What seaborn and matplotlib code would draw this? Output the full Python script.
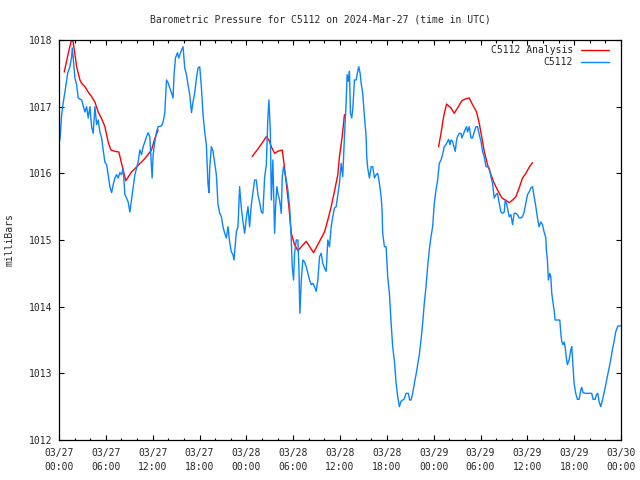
import pandas as pd
import seaborn as sns
import matplotlib.pyplot as plt
from matplotlib.ticker import MultipleLocator

# Hours since 2024-03-27 00:00 UTC and pressure (mbar)
obs_hours = [0.12, 0.34, 0.55, 0.76, 1.11, 1.40, 1.62, 1.70, 1.82, 2.04, 2.26, 2.46, 2.90, 3.32, 3.54,
             3.74, 3.96, 4.18, 4.38, 4.60, 4.82, 5.02, 5.24, 5.46, 5.66, 5.88, 6.10, 6.30, 6.52, 6.74,
             6.94, 7.16, 7.38, 7.58, 7.80, 8.01, 8.22, 8.44, 8.65, 8.86, 9.08, 9.29, 9.50, 9.72, 10.14,
             10.36, 10.57, 10.78, 10.99, 11.21, 11.42, 11.63, 11.85, 11.93, 12.06, 12.27, 12.49, 12.70,
             13.13, 13.33, 13.55, 13.77, 13.97, 14.19, 14.41, 14.61, 14.74, 14.92, 15.18, 15.34, 15.60,
             15.89, 16.11, 16.33, 16.53, 16.75, 16.97, 17.17, 17.39, 17.61, 17.81, 18.03, 18.25, 18.45,
             18.67, 18.88, 19.09, 19.22, 19.31, 19.52, 19.73, 19.95, 20.16, 20.37, 20.59, 20.80, 21.01,
             21.23, 21.44, 21.65, 21.86, 22.08, 22.29, 22.42, 22.72, 22.93, 23.14, 23.36, 23.57, 23.78,
             24.00, 24.21, 24.42, 24.64, 24.85, 25.06, 25.28, 25.48, 25.70, 25.92, 26.12, 26.34, 26.56,
             26.76, 26.89, 27.07, 27.20, 27.40, 27.62, 27.75, 27.91, 28.04, 28.26, 28.48, 28.60, 28.77,
             29.12, 29.32, 29.54, 29.76, 29.88, 30.05, 30.18, 30.40, 30.60, 30.73, 30.86, 31.04, 31.24,
             31.46, 31.67, 31.88, 32.10, 32.31, 32.52, 32.74, 32.95, 33.16, 33.38, 33.59, 33.80, 34.01,
             34.23, 34.44, 34.65, 34.87, 35.08, 35.29, 35.51, 35.72, 35.93, 36.15, 36.35, 36.57, 36.78,
             36.91, 37.08, 37.21, 37.34, 37.50, 37.63, 37.85, 38.06, 38.27, 38.40, 38.58, 38.71, 38.91,
             39.13, 39.35, 39.42, 39.55, 39.77, 39.99, 40.19, 40.41, 40.63, 40.83, 41.05, 41.27, 41.39,
             41.47, 41.69, 41.91, 42.11, 42.33, 42.55, 42.75, 42.97, 43.19, 43.39, 43.61, 43.82, 44.03,
             44.25, 44.46, 44.76, 44.92, 45.10, 45.31, 45.53, 45.74, 45.95, 46.16, 46.38, 46.59, 46.80,
             47.02, 47.23, 47.44, 47.66, 47.87, 48.08, 48.30, 48.51, 48.72, 48.94, 49.14, 49.36, 49.58,
             49.78, 49.91, 50.09, 50.22, 50.42, 50.64, 50.77, 50.93, 51.06, 51.28, 51.50, 51.62, 51.79,
             52.01, 52.21, 52.34, 52.56, 52.78, 52.98, 53.20, 53.42, 53.62, 53.84, 54.06, 54.26, 54.48,
             54.70, 54.90, 55.12, 55.34, 55.54, 55.76, 55.98, 56.18, 56.40, 56.62, 56.82, 57.04, 57.17,
             57.33, 57.46, 57.68, 57.89, 58.11, 58.31, 58.53, 58.74, 58.95, 59.17, 59.38, 59.59, 59.81,
             60.02, 60.23, 60.45, 60.66, 60.88, 61.09, 61.30, 61.51, 61.73, 61.94, 62.15, 62.37, 62.44,
             62.57, 62.70, 62.88, 63.01, 63.13, 63.30, 63.43, 63.56, 63.85, 64.16, 64.29, 64.42, 64.58,
             64.71, 64.84, 65.00, 65.13, 65.35, 65.56, 65.69, 65.77, 65.90, 65.99, 66.20, 66.41, 66.63,
             66.85, 66.97, 67.14, 67.48, 67.91, 68.25, 68.42, 68.68, 68.85, 69.03, 69.19, 69.40, 69.62,
             69.82, 70.04, 70.25, 70.46, 70.68, 70.89, 71.10, 71.32, 71.60, 71.95]
obs_mbar = [1016.50, 1016.88, 1017.07, 1017.22, 1017.50, 1017.60, 1017.75, 1017.88, 1017.73, 1017.43,
            1017.33, 1017.13, 1017.10, 1016.92, 1017.00, 1016.83, 1017.00, 1016.70, 1016.60, 1017.00,
            1016.73, 1016.80, 1016.62, 1016.53, 1016.35, 1016.17, 1016.13, 1015.98, 1015.80, 1015.71,
            1015.83, 1015.93, 1015.98, 1015.93, 1016.01, 1015.98, 1016.08, 1015.68, 1015.63, 1015.57,
            1015.42, 1015.60, 1015.78, 1015.98, 1016.17, 1016.35, 1016.28, 1016.40, 1016.47, 1016.55,
            1016.61, 1016.55, 1016.08, 1015.93, 1016.28, 1016.47, 1016.62, 1016.70, 1016.71, 1016.77,
            1016.90, 1017.40, 1017.36, 1017.28, 1017.21, 1017.13, 1017.48, 1017.73, 1017.81, 1017.73,
            1017.82, 1017.90, 1017.58, 1017.48, 1017.33, 1017.18, 1016.91, 1017.07, 1017.21, 1017.43,
            1017.58, 1017.60, 1017.28, 1016.88, 1016.62, 1016.43, 1015.83, 1015.71, 1016.08, 1016.40,
            1016.33, 1016.15, 1015.98, 1015.53, 1015.40, 1015.35, 1015.20, 1015.10, 1015.03, 1015.20,
            1014.97, 1014.82, 1014.78, 1014.70, 1015.12, 1015.20, 1015.80, 1015.48, 1015.27, 1015.10,
            1015.33, 1015.50, 1015.20, 1015.53, 1015.72, 1015.90, 1015.90, 1015.68, 1015.57, 1015.42,
            1015.40, 1015.93, 1016.13, 1016.83, 1017.10, 1016.65, 1015.60, 1016.20, 1015.10, 1015.50,
            1015.80, 1015.70, 1015.60, 1015.40, 1015.95, 1016.10, 1015.90, 1015.75, 1015.50, 1015.00,
            1014.60, 1014.40, 1014.80, 1015.00, 1015.00, 1014.60, 1013.90, 1014.40, 1014.70, 1014.67,
            1014.60, 1014.50, 1014.40, 1014.33, 1014.35, 1014.30, 1014.23, 1014.40, 1014.75, 1014.80,
            1014.65, 1014.58, 1014.53, 1015.00, 1014.90, 1015.20, 1015.35, 1015.48, 1015.50, 1015.68,
            1015.85, 1016.15, 1015.95, 1016.55, 1017.05, 1017.48, 1017.38, 1017.53, 1016.90, 1016.83,
            1016.95, 1017.40, 1017.40, 1017.53, 1017.60, 1017.50, 1017.35, 1017.20, 1016.85, 1016.55,
            1016.25, 1016.08, 1015.93, 1016.10, 1016.10, 1015.93, 1015.98, 1016.00, 1015.85, 1015.65,
            1015.45, 1015.10, 1014.90, 1014.90, 1014.45, 1014.20, 1013.75, 1013.40, 1013.18, 1012.85,
            1012.65, 1012.50, 1012.58, 1012.60, 1012.62, 1012.70, 1012.70, 1012.60, 1012.60, 1012.70,
            1012.85, 1012.98, 1013.13, 1013.28, 1013.50, 1013.75, 1014.05, 1014.30, 1014.60, 1014.85,
            1015.05, 1015.20, 1015.55, 1015.75, 1015.90, 1016.15, 1016.20, 1016.28, 1016.40, 1016.43,
            1016.48, 1016.51, 1016.43, 1016.50, 1016.48, 1016.38, 1016.33, 1016.50, 1016.55, 1016.60,
            1016.60, 1016.53, 1016.58, 1016.65, 1016.70, 1016.62, 1016.70, 1016.53, 1016.53, 1016.62,
            1016.70, 1016.70, 1016.58, 1016.48, 1016.33, 1016.25, 1016.10, 1016.10, 1016.08, 1015.95,
            1015.85, 1015.63, 1015.68, 1015.70, 1015.55, 1015.42, 1015.40, 1015.42, 1015.60, 1015.55,
            1015.48, 1015.35, 1015.38, 1015.23, 1015.40, 1015.40, 1015.38, 1015.33, 1015.33, 1015.35,
            1015.42, 1015.55, 1015.68, 1015.72, 1015.78, 1015.80, 1015.65, 1015.50, 1015.33, 1015.20,
            1015.27, 1015.23, 1015.12, 1015.03, 1014.85, 1014.70, 1014.40, 1014.50, 1014.45, 1014.20,
            1014.05, 1013.95, 1013.80, 1013.80, 1013.80, 1013.60, 1013.47, 1013.43, 1013.47, 1013.40,
            1013.23, 1013.13, 1013.20, 1013.35, 1013.40, 1013.25, 1013.00, 1012.85, 1012.70, 1012.61,
            1012.61, 1012.75, 1012.79, 1012.71, 1012.70, 1012.70, 1012.70, 1012.61, 1012.61, 1012.68,
            1012.70, 1012.58, 1012.50, 1012.60, 1012.70, 1012.83, 1012.95, 1013.08, 1013.20, 1013.35,
            1013.47, 1013.62, 1013.71, 1013.71]

# Analysis series, three separate runs
ana_hours = [0.67, 1.19, 1.53, 1.70, 1.82, 2.26, 2.68, 2.90, 3.32, 3.74, 4.18, 4.60, 5.02, 5.46, 5.88,
             6.30, 6.65, 7.16, 7.67, 8.01, 8.22, 8.56, 9.29, 10.14, 10.99, 11.85, 12.27, 12.70,
             24.74, 25.70, 26.56, 26.89, 27.20, 27.62, 28.04, 28.60, 28.77, 29.12, 29.45, 29.76, 30.18,
             30.60, 31.67, 32.61, 33.38, 34.01, 34.44, 34.87, 35.29, 35.72, 35.93, 36.28, 36.57,
             48.63, 48.94, 49.14, 49.36, 49.66, 50.22, 50.64, 51.06, 51.62, 52.14, 52.56, 52.98, 53.49,
             53.84, 54.18, 54.48, 54.90, 55.34, 55.76, 56.18, 56.74, 57.17, 57.68, 58.11, 58.53, 58.95,
             59.38, 59.81, 60.23, 60.66]
ana_mbar = [1017.52, 1017.80, 1017.97, 1018.00, 1017.97, 1017.60, 1017.40, 1017.35, 1017.30, 1017.22,
            1017.15, 1017.07, 1016.92, 1016.82, 1016.70, 1016.47, 1016.35, 1016.33, 1016.32, 1016.15,
            1016.05, 1015.89, 1016.02, 1016.12, 1016.22, 1016.35, 1016.52, 1016.65,
            1016.25, 1016.40, 1016.55, 1016.50, 1016.40, 1016.30, 1016.33, 1016.35, 1016.20, 1015.85,
            1015.50, 1015.10, 1014.93, 1014.84, 1014.98, 1014.81, 1014.98, 1015.12, 1015.30, 1015.50,
            1015.73, 1015.98, 1016.25, 1016.55, 1016.88,
            1016.40, 1016.60, 1016.75, 1016.90, 1017.04, 1016.98, 1016.90, 1016.98, 1017.09, 1017.12,
            1017.13, 1017.03, 1016.92, 1016.75, 1016.53, 1016.33, 1016.13, 1015.98, 1015.85, 1015.75,
            1015.63, 1015.60, 1015.56, 1015.60, 1015.65, 1015.78, 1015.93, 1016.00, 1016.09, 1016.16]
ana_run = [1] * 28 + [2] * 25 + [3] * 30

tick_hours = list(range(0, 73, 6))
tick_labels = ['03/27\n00:00', '03/27\n06:00', '03/27\n12:00', '03/27\n18:00',
               '03/28\n00:00', '03/28\n06:00', '03/28\n12:00', '03/28\n18:00',
               '03/29\n00:00', '03/29\n06:00', '03/29\n12:00', '03/29\n18:00',
               '03/30\n00:00']

obs = pd.DataFrame({'hour': obs_hours, 'mbar': obs_mbar})
ana = pd.DataFrame({'hour': ana_hours, 'mbar': ana_mbar, 'run': ana_run})

sns.set_style('ticks')
plt.rcParams['font.family'] = ['DejaVu Sans Mono']
plt.rcParams['font.size'] = 7

red = '#ff0000'
blue = '#0a84ff'

fig = plt.figure(figsize=(6.4, 4.8), dpi=100)
ax = fig.add_axes([59 / 640, 40 / 480, 562 / 640, 400 / 480])

sns.lineplot(data=ana, x='hour', y='mbar', units='run', estimator=None,
             color=red, linewidth=1.0, ax=ax, legend=False)
sns.lineplot(data=obs, x='hour', y='mbar', color=blue, linewidth=1.0, ax=ax, legend=False)

ax.set_xlim(0, 72)
ax.set_ylim(1012, 1018)
ax.set_xticks(tick_hours)
ax.set_xticklabels(tick_labels, linespacing=1.45)
ax.xaxis.set_minor_locator(MultipleLocator(2))
ax.yaxis.set_major_locator(MultipleLocator(1))
ax.yaxis.set_major_formatter(plt.FuncFormatter(lambda v, p: f'{v:.0f}'))
ax.tick_params(which='both', direction='in', top=True, right=True, color='black', width=0.8)
ax.tick_params(which='major', length=3.5)
ax.tick_params(which='minor', length=1.8)
ax.tick_params(axis='x', which='major', pad=6)
ax.tick_params(axis='y', which='major', pad=5)
for s in ax.spines.values():
    s.set_color('black')
    s.set_linewidth(0.9)

ax.set_xlabel('')
ax.set_ylabel('milliBars', labelpad=10)
fig.text(0.5, 1 - 20 / 480, 'Barometric Pressure for C5112 on 2024-Mar-27 (time in UTC)',
         ha='center', va='center')

# key in the top right corner, gnuplot style
key_rows = [('C5112 Analysis', red, 0.975), ('C5112', blue, 0.945)]
for label, col, yy in key_rows:
    ax.text(0.9146, yy, label, transform=ax.transAxes, ha='right', va='center')
    ax.plot([0.929, 0.979], [yy, yy], transform=ax.transAxes, color=col, linewidth=1.0)

plt.savefig('out.png', dpi=100)
